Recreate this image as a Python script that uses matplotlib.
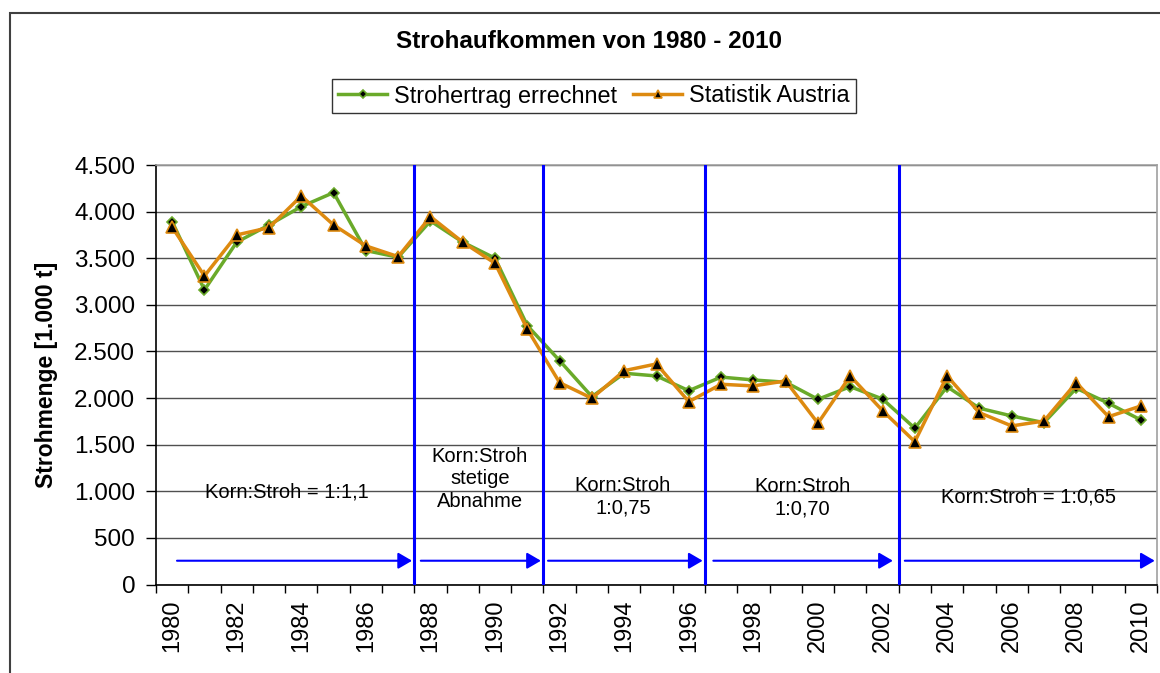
import matplotlib
matplotlib.use("Agg")
import matplotlib.pyplot as plt
from matplotlib.patches import Rectangle
from matplotlib.ticker import FuncFormatter, FixedLocator

plt.rcParams['font.family'] = ['Liberation Sans', 'DejaVu Sans']

years = list(range(1980, 2011))
errechnet = [3893, 3160, 3672, 3857, 4054, 4204, 3582, 3511,
             3900, 3672, 3500, 2777, 2401, 2015, 2266, 2237, 2079,
             2225, 2194, 2170, 1987, 2122, 1990, 1676, 2122, 1891,
             1808, 1736, 2105, 1944, 1765]
statistik = [3833, 3310, 3750, 3828, 4168, 3857, 3632, 3517,
             3946, 3672, 3446, 2738, 2165, 1998, 2294, 2366, 1961,
             2148, 2130, 2184, 1730, 2237, 1865, 1532, 2237, 1843,
             1701, 1754, 2165, 1800, 1915]

title = "Strohaufkommen von 1980 - 2010"
ylabel = "Strohmenge [1.000 t]"
series_names = ["Strohertrag errechnet", "Statistik Austria"]
period_bounds = [7.5, 11.5, 16.5, 22.5]
arrows = [(0.15, 7.43), (7.7, 11.42), (11.64, 16.43), (16.76, 22.32), (22.69, 30.43)]
arrow_y = 255
notes = [(3.55, 996, "Korn:Stroh = 1:1,1"),
         (9.53, 1132, "Korn:Stroh\nstetige\nAbnahme"),
         (13.96, 942, "Korn:Stroh\n1:0,75"),
         (19.53, 931, "Korn:Stroh\n1:0,70"),
         (26.51, 942, "Korn:Stroh = 1:0,65")]

W, H = 1160, 673
fig = plt.figure(figsize=(W / 100, H / 100), dpi=100)
ax = fig.add_axes([156 / W, 1 - 584.5 / H, (1157 - 156) / W, (584.5 - 165) / H])

x = list(range(len(years)))
green = '#6aaa2a'
orange = '#dd8a10'
ax.plot(x, errechnet, color=green, lw=2.5, marker='D', ms=5.5,
        mfc='black', mec=green, mew=1.2, label=series_names[0], zorder=4)
ax.plot(x, statistik, color=orange, lw=2.5, marker='^', ms=8,
        mfc='black', mec=orange, mew=1.2, label=series_names[1], zorder=5)

ax.set_xlim(-0.5, len(years) - 0.5)
ax.set_ylim(0, 4500)
ax.set_yticks(range(0, 4501, 500))
ax.yaxis.set_major_formatter(FuncFormatter(lambda v, p: f"{int(v):,}".replace(",", ".")))
ax.grid(axis='y', color='#505050', lw=1.0, zorder=0)
ax.set_axisbelow(True)

ax.xaxis.set_major_locator(FixedLocator([i for i in x if years[i] % 2 == 0]))
ax.set_xticklabels([str(y) for y in years if y % 2 == 0], rotation=90)
ax.xaxis.set_minor_locator(FixedLocator([i - 0.5 for i in range(len(years) + 1)]))
ax.tick_params(axis='x', which='major', length=0, labelsize=17, pad=11)
ax.tick_params(axis='x', which='minor', length=6, width=1, direction='out')
ax.tick_params(axis='y', length=7, width=1, labelsize=17.5, pad=8)

for s in ['left', 'bottom']:
    ax.spines[s].set_color('black')
    ax.spines[s].set_linewidth(1.2)
for s in ['top', 'right']:
    ax.spines[s].set_color('#a0a0a0')
    ax.spines[s].set_linewidth(1.2)

for b in period_bounds:
    ax.axvline(b, color='#0000ff', lw=2.2, zorder=6)

for x0, x1 in arrows:
    ax.annotate('', xy=(x1, arrow_y), xytext=(x0, arrow_y),
                arrowprops=dict(arrowstyle='-|>,head_length=0.6,head_width=0.35',
                                color='#0000ff', lw=1.5, shrinkA=0, shrinkB=0,
                                mutation_scale=14), zorder=6)

for nx, ny, txt in notes:
    ax.text(nx, ny, txt, ha='center', va='center', fontsize=14.5,
            linespacing=1.25, color='black', zorder=7)

leg = fig.legend(loc='center', bbox_to_anchor=(594 / W, 1 - 96 / H), ncol=2,
                 fontsize=16.8, frameon=True, fancybox=False, handlelength=2.1,
                 handletextpad=0.3, columnspacing=0.7, borderpad=0.25,
                 markerscale=0.75)
leg.get_frame().set_edgecolor('black')
leg.get_frame().set_linewidth(1.0)

fig.text(589 / W, 1 - 42 / H, title, ha='center', va='center',
         fontsize=17.5, fontweight='bold')
fig.text(47 / W, 1 - 375 / H, ylabel, ha='center', va='center',
         rotation=90, fontsize=16.5, fontweight='bold')

fig.patches.append(Rectangle((9.5 / W, -0.5), 2, 1 - 12.5 / H + 0.5,
                             transform=fig.transFigure, fill=False,
                             edgecolor='#404040', lw=1.5))

fig.savefig('out.png', dpi=100)
